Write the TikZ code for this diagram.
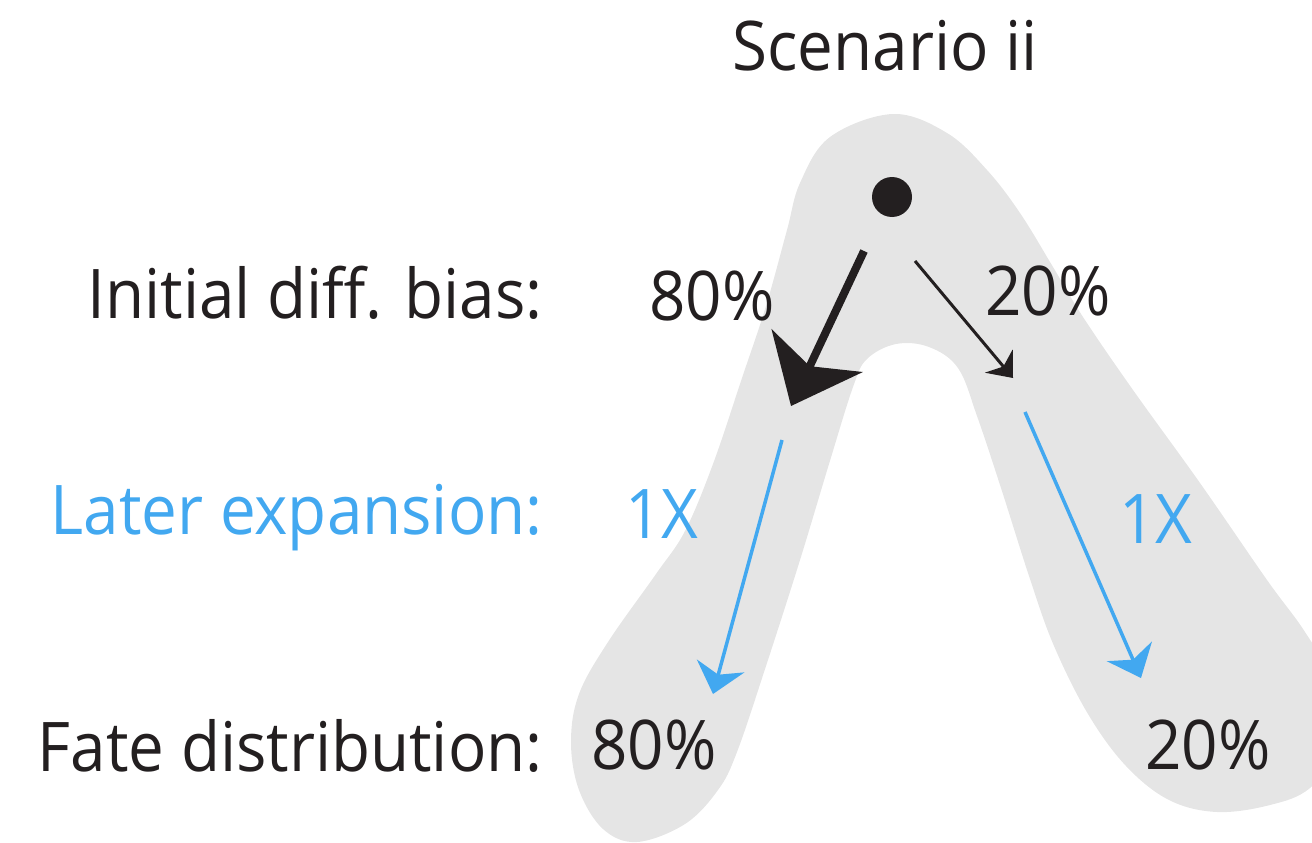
\documentclass[tikz,border=0pt]{standalone}
\usepackage{fontspec}
\setmainfont[FakeStretch=0.93]{Open Sans}
\usepackage{tikz}
\usetikzlibrary{arrows.meta}
\definecolor{inkblack}{HTML}{231F20}
\definecolor{expblue}{HTML}{42A8F0}
\definecolor{lineagegrey}{HTML}{E5E5E5}

\begin{document}
\begin{tikzpicture}[
  x=0.02cm, y=-0.02cm,
  every node/.style={inner sep=0pt, text=inkblack,
                     font=\fontsize{39}{44}\selectfont},
  rowlabel/.style={anchor=base east},
  pct/.style={anchor=base},
  fold/.style={anchor=base, text=expblue},
  cell/.style={circle, fill=inkblack, minimum size=0.8cm},
  thickarr/.style={-{Stealth[length=1.22cm, width=2cm, inset=0.34cm]},
                   line width=0.16cm, inkblack},
  thinarr/.style={-{Stealth[length=0.44cm, width=0.72cm, inset=0.14cm]},
                  line width=0.06cm, inkblack},
  bluearr/.style={-{Stealth[length=0.58cm, width=0.98cm, inset=0.18cm]},
                  line width=0.07cm, expblue},
]
\useasboundingbox (0,0) rectangle (1312,842);
\clip (0,0) rectangle (1312,842);

%% ── Lineage shape ────────────────────────────────────────────────────────────
\fill[lineagegrey] plot[smooth cycle, tension=0.6] coordinates {
  (893,114) (947,133) (987,170) (1020,213) (1053,267) (1083,317)
  (1133,390) (1200,483) (1267,580) (1305,632) (1338,690) (1342,745)
  (1310,788) (1270,805) (1217,812) (1169,800) (1126,766) (1088,714)
  (1054,646) (1030,579) (1001,488) (977,416) (958,368) (929,347)
  (896,344) (867,359) (853,387) (829,464) (800,560) (766,666)
  (737,752) (718,790) (685,824) (637,842) (603,829) (579,790)
  (571,742) (579,694) (608,642) (656,574) (685,531) (713,464)
  (742,378) (766,306) (787,230) (800,183) (830,137)};

%% ── Row labels ───────────────────────────────────────────────────────────────
\node[pct]                    (title) at (885,70)  {Scenario ii};
\node[rowlabel]               (bias)  at (543,318) {Initial diff. bias:};
\node[rowlabel, text=expblue] (expan) at (543,534) {Later expansion:};
\node[rowlabel]               (fate)  at (543,771) {Fate distribution:};

%% ── Progenitor and branches ──────────────────────────────────────────────────
\node[cell] (root) at (892,197) {};

\coordinate (Lstart) at (864,251);  \coordinate (Ltip) at (791,406);
\coordinate (Rstart) at (915,261);  \coordinate (Rtip) at (1013,378);
\coordinate (LBstart) at (782,440); \coordinate (LBtip) at (713,694);
\coordinate (RBstart) at (1025,412); \coordinate (RBtip) at (1141,678);

\draw[thickarr] (Lstart) -- (Ltip);
\draw[thinarr]  (Rstart) -- (Rtip);
\draw[bluearr]  (LBstart) -- (LBtip);
\draw[bluearr]  (RBstart) -- (RBtip);

%% ── Percentages and fold changes ─────────────────────────────────────────────
\node[pct]  (biasL) at (712,320)  {80\%};
\node[pct]  (biasR) at (1048,315) {20\%};
\node[fold] (foldL) at (662,538)  {1X};
\node[fold] (foldR) at (1156,543) {1X};
\node[pct]  (fateL) at (654,769)  {80\%};
\node[pct]  (fateR) at (1208,769) {20\%};

\end{tikzpicture}
\end{document}
